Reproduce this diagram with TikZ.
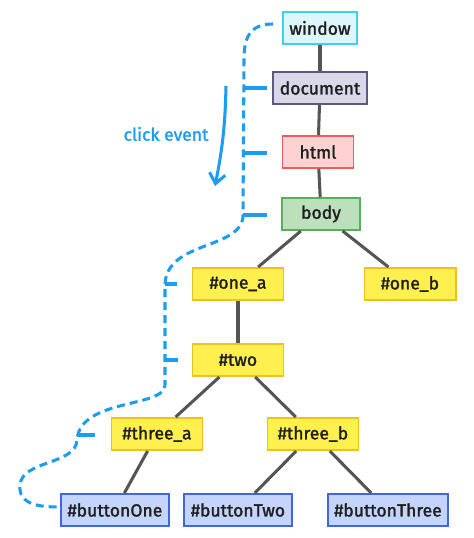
\documentclass[tikz,border=0pt]{standalone}
\usepackage{fontspec}
\setmainfont{Fira Sans}
\newfontfamily\labelfont[FakeBold=1.6]{Fira Sans}
\usetikzlibrary{arrows.meta}

\definecolor{inkgrey}{HTML}{555555}
\definecolor{evblue}{HTML}{1C9DF0}
\definecolor{winfill}{HTML}{DDF6FB}
\definecolor{windraw}{HTML}{3FD0EE}
\definecolor{docfill}{HTML}{D8D8E8}
\definecolor{docdraw}{HTML}{5A5A80}
\definecolor{htmlfill}{HTML}{FFD2D2}
\definecolor{htmldraw}{HTML}{F05A5A}
\definecolor{bodyfill}{HTML}{BCE0BC}
\definecolor{bodydraw}{HTML}{5AAE5A}
\definecolor{elfill}{HTML}{FFF050}
\definecolor{eldraw}{HTML}{F0C020}
\definecolor{btnfill}{HTML}{C4D4FA}
\definecolor{btndraw}{HTML}{3F66E0}

\tikzset{
  box/.style={draw, line width=1.7pt, minimum height=9.6mm, inner xsep=2mm,
    text=black!88, font=\labelfont\fontsize{15}{18}\selectfont},
  winbox/.style={box, fill=winfill, draw=windraw},
  docbox/.style={box, fill=docfill, draw=docdraw},
  htmlbox/.style={box, fill=htmlfill, draw=htmldraw},
  bodybox/.style={box, fill=bodyfill, draw=bodydraw},
  elbox/.style={box, fill=elfill, draw=eldraw, minimum width=27.3mm},
  btnbox/.style={box, fill=btnfill, draw=btndraw, minimum width=29.4mm},
  link/.style={draw=inkgrey, line width=2.6pt},
  bubble/.style={draw=evblue, line width=2.6pt, dash pattern=on 2.4mm off 1.5mm},
  tick/.style={draw=evblue, line width=2.6pt}
}

\begin{document}
\begin{tikzpicture}[x=0.3mm, y=-0.3mm]
\useasboundingbox (0,0) rectangle (474,538);
% the tree
\node[winbox, minimum width=22.2mm] (window) at (320,28) {window};
\node[docbox, minimum width=27.6mm] (document) at (320,88) {document};
\node[htmlbox, minimum width=21.3mm] (html) at (318,152) {html};
\node[bodybox, minimum width=23.4mm] (body) at (321,214) {body};
\node[elbox] (onea) at (238,284) {\#one\_a};
\node[elbox] (oneb) at (410,284) {\#one\_b};
\node[elbox] (two) at (238,360) {\#two};
\node[elbox] (threea) at (157,434) {\#three\_a};
\node[elbox] (threeb) at (313,434) {\#three\_b};
\node[btnbox] (btnone) at (115,510) {\#buttonOne};
\node[btnbox] (btntwo) at (238,510) {\#buttonTwo};
\node[btnbox, minimum width=34.5mm] (btnthree) at (388,510) {\#buttonThree};
\draw[link] (window) -- (document);
\draw[link] (document) -- (html);
\draw[link] (html) -- (body);
\draw[link] (body) -- (onea);
\draw[link] (body) -- (oneb);
\draw[link] (onea) -- (two);
\draw[link] (two) -- (threea);
\draw[link] (two) -- (threeb);
\draw[link] (threea) -- (btnone);
\draw[link] (threeb) -- (btntwo);
\draw[link] (threeb) -- (btnthree);
% the event path
\draw[bubble] (273,24) .. controls (248,24) and (244,40) .. (244,60)
  -- (243,215) .. controls (243,250) and (166,240) .. (165,285)
  -- (165,385) .. controls (165,408) and (80,398) .. (77,440)
  .. controls (76,465) and (22,460) .. (20,485)
  .. controls (18,505) and (40,507) .. (60,507);
\draw[tick] (243,88) -- (267,88);
\draw[tick] (243,153) -- (267,153);
\draw[tick] (243,215) -- (267,215);
\draw[tick] (165,284) -- (177,284);
\draw[tick] (165,360) -- (178,360);
\draw[tick] (77,435) -- (95,435);
\node[text=evblue, font=\labelfont\fontsize{15}{18}\selectfont] (clk) at (166,134) {click event};
\draw[evblue, line width=2.6pt, -{Straight Barb[length=3mm,width=4.8mm]}]
  (226,86) to[bend left=5] (215,186);
\end{tikzpicture}
\end{document}
